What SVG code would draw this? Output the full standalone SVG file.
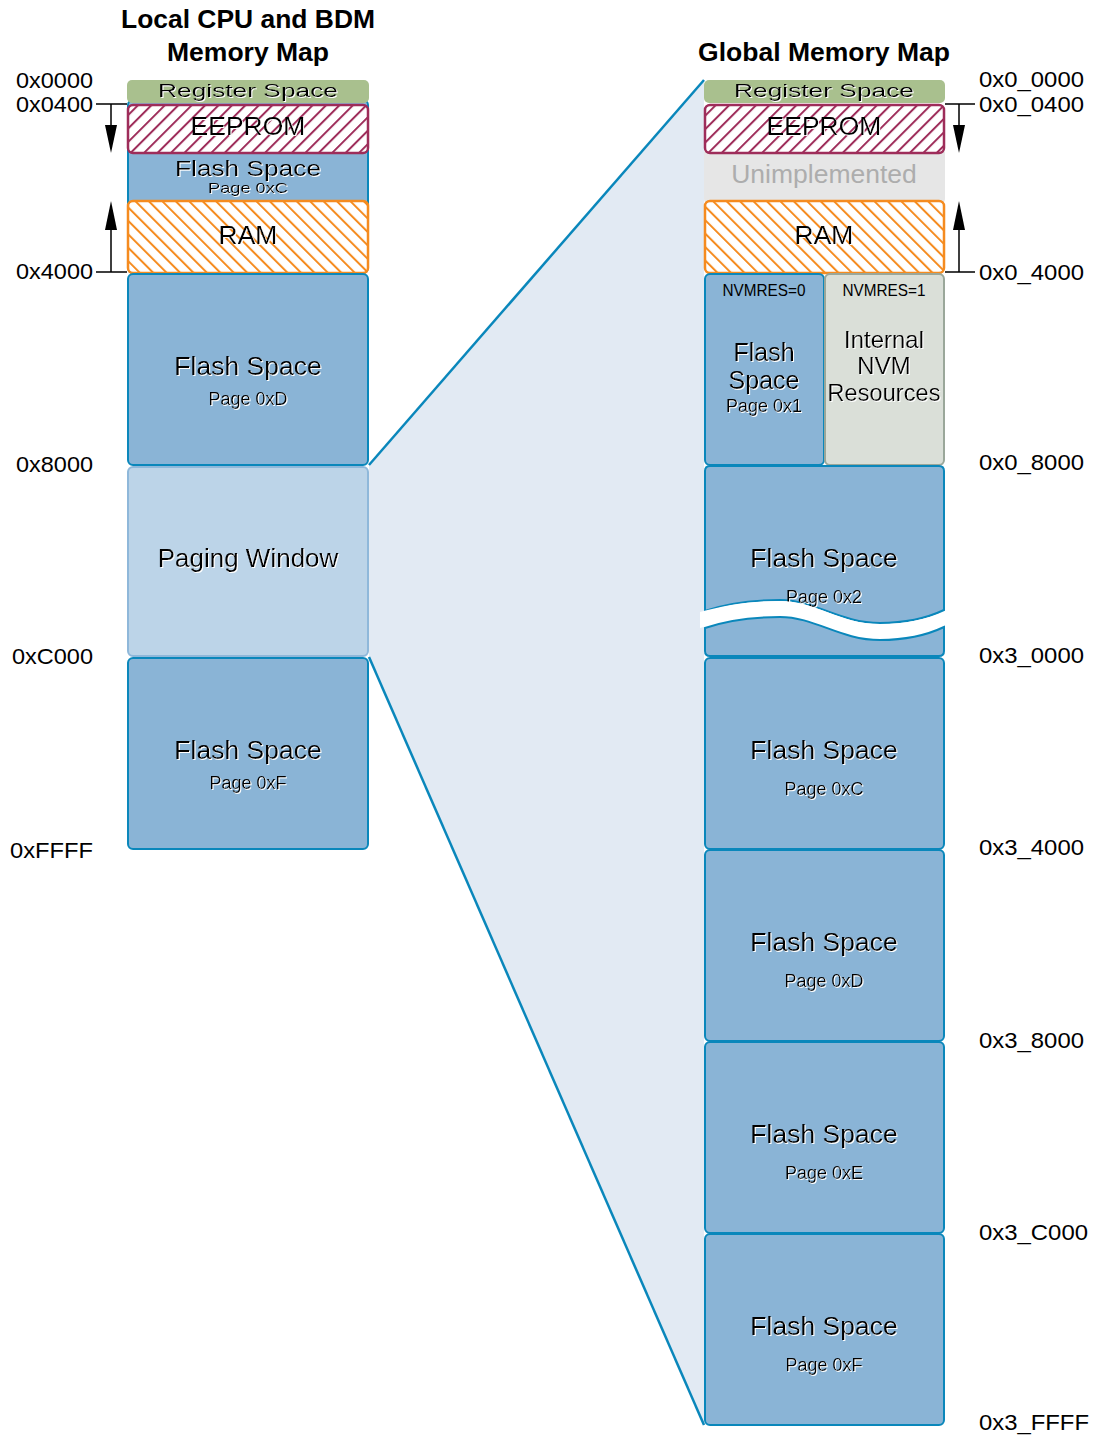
<svg xmlns="http://www.w3.org/2000/svg" width="1093" height="1435" viewBox="0 0 1093 1435">
<style>
text{font-family:"Liberation Sans",Arial,sans-serif;fill:#000}
.t{font-weight:bold;font-size:25px;text-anchor:middle}
.lbl{font-size:22px}
.r{text-anchor:end}
.c{text-anchor:middle}
.big{font-size:26.5px}
.pg{font-size:18px}
.flash{fill:#8ab4d6;stroke:#0a87bb;stroke-width:2}
.reg{fill:#a9c08e}
.ee{fill:url(#hE);stroke:#9e2d5a;stroke-width:2.5}
.ram{fill:url(#hR);stroke:#f58b1f;stroke-width:2.5}
.ln{stroke:#000;stroke-width:1.5;fill:none}
.sh{filter:url(#sh)}
</style>
<defs>
<pattern id="hE" width="9.5" height="9.5" patternUnits="userSpaceOnUse" patternTransform="rotate(45)">
<rect width="9.5" height="9.5" fill="#fff"/>
<line x1="1" y1="0" x2="1" y2="9.5" stroke="#9e2d5a" stroke-width="2"/>
</pattern>
<pattern id="hR" width="9.5" height="9.5" patternUnits="userSpaceOnUse" patternTransform="rotate(-45)">
<rect width="9.5" height="9.5" fill="#fff"/>
<line x1="1" y1="0" x2="1" y2="9.5" stroke="#f58b1f" stroke-width="2"/>
</pattern>
<filter id="sh" x="-5%" y="-20%" width="110%" height="140%">
<feDropShadow dx="1" dy="1" stdDeviation="0.4" flood-color="#fff" flood-opacity="1"/>
</filter>
</defs>
<rect width="1093" height="1435" fill="#fff"/>

<g id="connectors">
<polygon points="369,465 704,80 704,1425 369,657" fill="#e2eaf3"/>
<line x1="369" y1="465" x2="704" y2="80" stroke="#0a87bb" stroke-width="2.5"/>
<line x1="369" y1="657" x2="704" y2="1425" stroke="#0a87bb" stroke-width="2.5"/>
<path class="ln" d="M96,104H127M111,104V130M96,272H127M111,272V230"/>
<polygon points="105,125 117,125 111,153"/>
<polygon points="105,230 117,230 111,201"/>
<path class="ln" d="M945,104H975M959,104V130M945,272H975M959,272V230"/>
<polygon points="953,125 965,125 959,153"/>
<polygon points="953,230 965,230 959,201"/>
</g>

<g id="titles">
<text class="t" x="248" y="28" textLength="254" lengthAdjust="spacingAndGlyphs">Local CPU and BDM</text>
<text class="t" x="248" y="61" textLength="162" lengthAdjust="spacingAndGlyphs">Memory Map</text>
<text class="t" x="824" y="61" textLength="252" lengthAdjust="spacingAndGlyphs">Global Memory Map</text>
</g>

<g id="left-labels">
<text class="lbl r" x="93" y="88" textLength="77" lengthAdjust="spacingAndGlyphs">0x0000</text>
<text class="lbl r" x="93" y="112" textLength="77" lengthAdjust="spacingAndGlyphs">0x0400</text>
<text class="lbl r" x="93" y="279" textLength="77" lengthAdjust="spacingAndGlyphs">0x4000</text>
<text class="lbl r" x="93" y="472" textLength="77" lengthAdjust="spacingAndGlyphs">0x8000</text>
<text class="lbl r" x="93" y="664" textLength="81" lengthAdjust="spacingAndGlyphs">0xC000</text>
<text class="lbl r" x="93" y="858" textLength="83" lengthAdjust="spacingAndGlyphs">0xFFFF</text>
</g>
<g id="right-labels">
<text class="lbl" x="979" y="87" textLength="105" lengthAdjust="spacingAndGlyphs">0x0_0000</text>
<text class="lbl" x="979" y="112" textLength="105" lengthAdjust="spacingAndGlyphs">0x0_0400</text>
<text class="lbl" x="979" y="280" textLength="105" lengthAdjust="spacingAndGlyphs">0x0_4000</text>
<text class="lbl" x="979" y="470" textLength="105" lengthAdjust="spacingAndGlyphs">0x0_8000</text>
<text class="lbl" x="979" y="663" textLength="105" lengthAdjust="spacingAndGlyphs">0x3_0000</text>
<text class="lbl" x="979" y="855" textLength="105" lengthAdjust="spacingAndGlyphs">0x3_4000</text>
<text class="lbl" x="979" y="1048" textLength="105" lengthAdjust="spacingAndGlyphs">0x3_8000</text>
<text class="lbl" x="979" y="1240" textLength="109" lengthAdjust="spacingAndGlyphs">0x3_C000</text>
<text class="lbl" x="979" y="1430" textLength="110" lengthAdjust="spacingAndGlyphs">0x3_FFFF</text>
</g>

<!-- Left column -->
<g id="L-flash-c">
<rect class="flash" x="128" y="100" width="240" height="173" rx="5"/>
<text class="c sh" x="248" y="176" font-size="22" textLength="146" lengthAdjust="spacingAndGlyphs">Flash Space</text>
<text class="c sh" x="248" y="193" font-size="15" textLength="80" lengthAdjust="spacingAndGlyphs">Page 0xC</text>
</g>
<g id="L-reg">
<rect class="reg" x="127" y="80" width="242" height="23" rx="5"/>
<text class="c sh" x="248" y="97" font-size="18" textLength="180" lengthAdjust="spacingAndGlyphs">Register Space</text>
</g>
<g id="L-eeprom">
<rect class="ee" x="128" y="105" width="240" height="48" rx="5"/>
<text class="c big sh" x="248" y="135">EEPROM</text>
</g>
<g id="L-ram">
<rect class="ram" x="128" y="201" width="240" height="72" rx="5"/>
<text class="c big sh" x="248" y="244">RAM</text>
</g>
<g id="L-flash-d">
<rect class="flash" x="128" y="274" width="240" height="191" rx="5"/>
<text class="c big sh" x="248" y="375">Flash Space</text>
<text class="c pg sh" x="248" y="405">Page 0xD</text>
</g>
<g id="L-paging">
<rect x="128" y="467" width="240" height="189" rx="5" fill="#bcd4e8" stroke="#8fb8da" stroke-width="2"/>
<text class="c sh" x="248" y="567" font-size="26">Paging Window</text>
</g>
<g id="L-flash-f">
<rect class="flash" x="128" y="658" width="240" height="191" rx="5"/>
<text class="c big sh" x="248" y="759">Flash Space</text>
<text class="c pg sh" x="248" y="789">Page 0xF</text>
</g>

<!-- Right column -->
<g id="R-unimpl">
<rect x="704" y="148" width="241" height="56" rx="5" fill="#e6e6e6"/>
<text class="c big" x="824" y="183" style="fill:#adadad">Unimplemented</text>
</g>
<g id="R-reg">
<rect class="reg" x="704" y="80" width="241" height="23" rx="5"/>
<text class="c sh" x="824" y="97" font-size="18" textLength="180" lengthAdjust="spacingAndGlyphs">Register Space</text>
</g>
<g id="R-eeprom">
<rect class="ee" x="705" y="105" width="239" height="48" rx="5"/>
<text class="c big sh" x="824" y="135">EEPROM</text>
</g>
<g id="R-ram">
<rect class="ram" x="705" y="201" width="239" height="72" rx="5"/>
<text class="c big sh" x="824" y="244">RAM</text>
</g>
<g id="R-flash-1">
<rect class="flash" x="705" y="274" width="119" height="191" rx="5"/>
<text class="c" x="764" y="296" font-size="17" textLength="83" lengthAdjust="spacingAndGlyphs">NVMRES=0</text>
<text class="c sh" x="764" y="361" font-size="25">Flash</text>
<text class="c sh" x="764" y="389" font-size="25">Space</text>
<text class="c pg sh" x="764" y="412">Page 0x1</text>
</g>
<g id="R-nvm">
<rect x="825" y="274" width="119" height="191" rx="5" fill="#dadfd8" stroke="#9aa79a" stroke-width="2"/>
<text class="c" x="884" y="296" font-size="17" textLength="83" lengthAdjust="spacingAndGlyphs">NVMRES=1</text>
<text class="c sh" x="884" y="348" font-size="24">Internal</text>
<text class="c sh" x="884" y="374" font-size="24">NVM</text>
<text class="c sh" x="884" y="401" font-size="24" textLength="113" lengthAdjust="spacingAndGlyphs">Resources</text>
</g>
<g id="R-flash-2">
<path class="flash" d="M705,611 V471 Q705,466 710,466 H939 Q944,466 944,471 V610 C925,619 905,623 880,623 C840,623 815,600 780,600 C750,600 725,604 705,611 Z"/>
<text class="c big sh" x="824" y="567">Flash Space</text>
<text class="c pg sh" x="824" y="603">Page 0x2</text>
<path d="M700,612 C725,605 750,601 780,601 C815,601 840,624 880,624 C905,624 925,620 949,610 V627 C925,637 905,640 880,640 C840,640 815,617 780,617 C750,617 725,621 700,628 Z" fill="#fff"/>
<path class="flash" d="M705,628 C725,621 750,617 780,617 C815,617 840,640 880,640 C905,640 925,636 944,627 V651 Q944,656 939,656 H710 Q705,656 705,651 Z"/>
</g>
<g id="R-flash-c">
<rect class="flash" x="705" y="658" width="239" height="191" rx="5"/>
<text class="c big sh" x="824" y="759">Flash Space</text>
<text class="c pg sh" x="824" y="795">Page 0xC</text>
</g>
<g id="R-flash-d">
<rect class="flash" x="705" y="850" width="239" height="191" rx="5"/>
<text class="c big sh" x="824" y="951">Flash Space</text>
<text class="c pg sh" x="824" y="987">Page 0xD</text>
</g>
<g id="R-flash-e">
<rect class="flash" x="705" y="1042" width="239" height="191" rx="5"/>
<text class="c big sh" x="824" y="1143">Flash Space</text>
<text class="c pg sh" x="824" y="1179">Page 0xE</text>
</g>
<g id="R-flash-f">
<rect class="flash" x="705" y="1234" width="239" height="191" rx="5"/>
<text class="c big sh" x="824" y="1335">Flash Space</text>
<text class="c pg sh" x="824" y="1371">Page 0xF</text>
</g>
</svg>
